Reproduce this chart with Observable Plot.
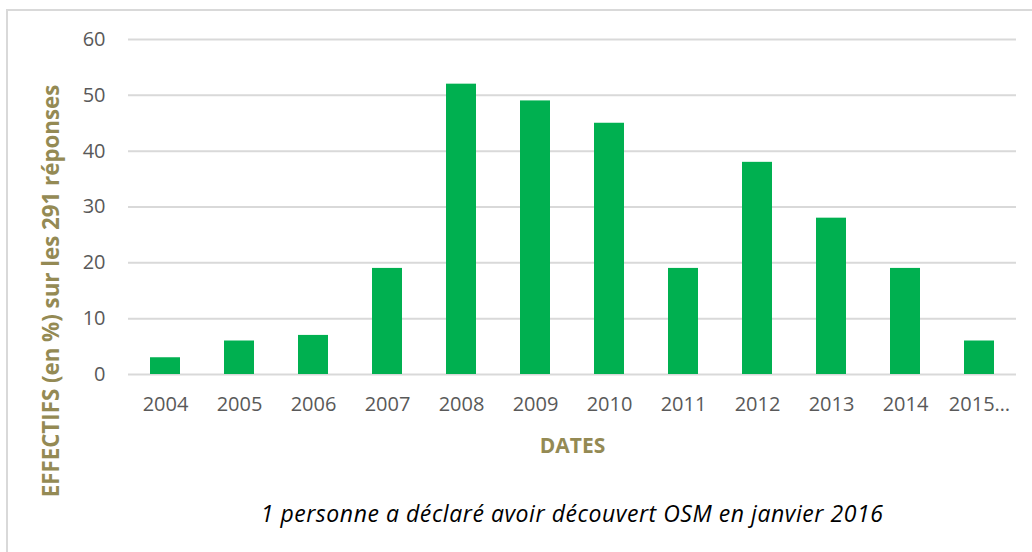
<!DOCTYPE html>
<html>
<head>
<meta charset="utf-8">
<script src="https://cdn.jsdelivr.net/npm/d3@7"></script>
<script src="https://cdn.jsdelivr.net/npm/@observablehq/plot@0.6"></script>
<style>
  body { margin: 0; background: #fff; }
  #wrap { position: relative; width: 1032px; height: 552px; overflow: hidden; font-family: "Open Sans", Lato, sans-serif; }
  #frame { position: absolute; left: 6px; top: 9px; right: -5px; bottom: -5px; border-left: 2px solid #d9d9d9; border-top: 2px solid #d9d9d9; }
  #chart { position: absolute; left: 0; top: 0; }
  #ytitle { position: absolute; left: 50px; top: 291px; transform: translate(-50%, -50%) rotate(-90deg); white-space: nowrap; font-weight: 700; font-size: 22.3px; color: #948A54; }
  #caption { position: absolute; left: 572px; top: 513px; transform: translate(-50%, -50%); white-space: nowrap; font-style: italic; font-size: 23px; letter-spacing: 0.55px; color: #000; }
</style>
</head>
<body>
<div id="wrap">
  <div id="frame"></div>
  <div id="chart"></div>
  <div id="ytitle">EFFECTIFS (en %) sur les 291 réponses</div>
  <div id="caption">1 personne a déclaré avoir découvert OSM en janvier 2016</div>
</div>
<script>
const years = ["2004","2005","2006","2007","2008","2009","2010","2011","2012","2013","2014","2015…"];
const values = [3, 6, 7, 19, 52, 49, 45, 19, 38, 28, 19, 6];
const yTicks = [0, 10, 20, 30, 40, 50, 60];
const xTitle = "DATES";

const data = years.map((y, i) => ({year: y, value: values[i]}));

const chart = Plot.plot({
  width: 1032,
  height: 552,
  marginLeft: 128,
  marginRight: 16,
  marginTop: 39,
  marginBottom: 178,
  style: {fontFamily: "'Open Sans', Lato, sans-serif", background: "transparent"},
  x: {domain: years, paddingInner: 0.595, paddingOuter: 0.2975},
  y: {domain: [0, 60]},
  marks: [
    Plot.gridY(yTicks, {stroke: "#d9d9d9", strokeOpacity: 1, strokeWidth: 2}),
    Plot.barY(data, {x: "year", y: "value", fill: "#00B050"}),
    Plot.axisY(yTicks, {tickSize: 0, tickPadding: 23, fontSize: 20, fill: "#595959", label: null}),
    Plot.axisX({tickSize: 0, tickPadding: 22, fontSize: 20, fill: "#595959", label: xTitle, labelAnchor: "center", labelOffset: 78, labelArrow: "none"})
  ]
});
chart.querySelectorAll("g[aria-label='x-axis label'] text").forEach(t => {
  t.setAttribute("fill", "#948A54");
  t.setAttribute("font-weight", "700");
  t.setAttribute("font-size", "21");
});
document.getElementById("chart").appendChild(chart);
</script>
</body>
</html>
